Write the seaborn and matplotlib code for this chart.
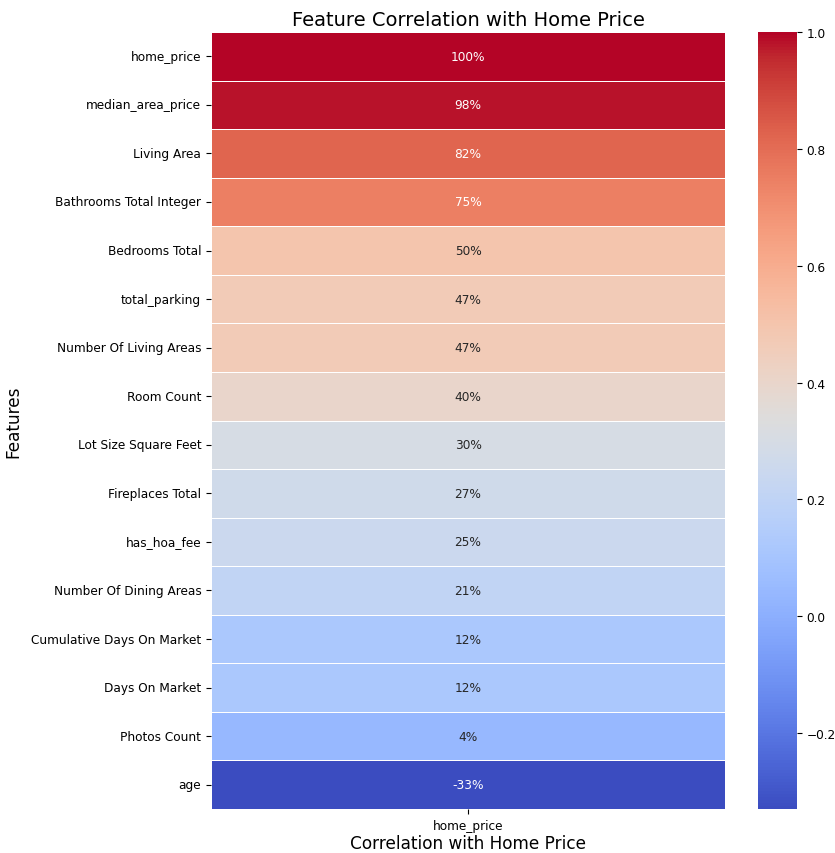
import pandas as pd
import matplotlib.pyplot as plt
import seaborn as sns

# tunnused ja nende korrelatsioon hinnaga
features = [
    "home_price", "median_area_price", "Living Area", "Bathrooms Total Integer",
    "Bedrooms Total", "total_parking", "Number Of Living Areas", "Room Count",
    "Lot Size Square Feet", "Fireplaces Total", "has_hoa_fee", "Number Of Dining Areas",
    "Cumulative Days On Market", "Days On Market", "Photos Count", "age",
]
correlations = [1.00, 0.98, 0.82, 0.75, 0.50, 0.47, 0.47, 0.40,
                0.30, 0.27, 0.25, 0.21, 0.12, 0.12, 0.04, -0.33]

corr_df = pd.DataFrame({"home_price": correlations}, index=features)

fig = plt.figure(figsize=(8.35, 8.54), dpi=100)
ax = fig.add_axes([211 / 835, 44 / 854, 514 / 835, 777 / 854])
cax = fig.add_axes([758 / 835, 44 / 854, 39 / 835, 777 / 854])

sns.heatmap(
    corr_df,
    annot=True, fmt=".0%",
    annot_kws={"fontsize": 8.7},
    cmap="coolwarm",
    linewidths=.5,
    ax=ax, cbar_ax=cax,
)
ax.set_title("Feature Correlation with Home Price", fontsize=14, pad=5)
ax.set_ylabel("Features", fontsize=12.2, labelpad=6)
ax.set_xlabel("Correlation with Home Price", fontsize=12.2, labelpad=2)
ax.tick_params(labelsize=8.7)
cax.tick_params(labelsize=8.7)

plt.savefig("out.png", dpi=100)
